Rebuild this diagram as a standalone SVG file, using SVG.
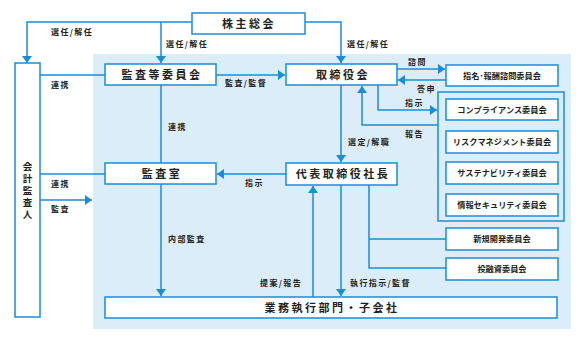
<svg xmlns="http://www.w3.org/2000/svg" width="582" height="341" viewBox="0 0 582 341">
<defs>
<marker id="ah" markerUnits="userSpaceOnUse" markerWidth="8" markerHeight="10" refX="7" refY="5" orient="auto">
<path d="M0,0 L7,5 L0,10 z" fill="#1a8cd8"/>
</marker>
<style>
.box{fill:#fff;stroke:#1a8cd8;stroke-width:1.5}
.ln{fill:none;stroke:#1a8cd8;stroke-width:1.5}
.ar{fill:none;stroke:#1a8cd8;stroke-width:1.5;marker-end:url(#ah)}
text{font-family:"Noto Sans CJK JP","Noto Sans",sans-serif;font-weight:bold;fill:#231f20}
.main{font-size:11px;letter-spacing:2.5px;text-anchor:middle}
.cm{font-size:8.2px;text-anchor:middle}
.lb{font-size:8px;letter-spacing:1.4px}
</style>
</defs>
<rect x="93" y="54" width="478" height="275" fill="#dcedfa"/>
<g id="connectors">
<path class="ar" d="M192,22 H27 V63"/>
<path class="ar" d="M161,22 V63"/>
<path class="ar" d="M305,22 H341 V63"/>
<path class="ln" d="M40,75 H105"/>
<path class="ar" d="M216,75 H285"/>
<path class="ar" d="M397,69 H445"/>
<path class="ar" d="M446,80 H398"/>
<path class="ar" d="M378,85 V110 H437"/>
<path class="ar" d="M438,125 H362 V86"/>
<path class="ar" d="M341,85 V162"/>
<path class="ln" d="M161,85 V163"/>
<path class="ar" d="M286,174 H217"/>
<path class="ln" d="M40,174 H105"/>
<path class="ar" d="M40,200 H92"/>
<path class="ar" d="M161,184 V296"/>
<path class="ar" d="M313,297 V186"/>
<path class="ar" d="M341,185 V296"/>
<path class="ln" d="M369,185 V268 H446 M369,239 H446"/>
</g>
<g id="shareholders"><rect class="box" x="192" y="13" width="113" height="21"/><text class="main" x="249" y="28">株主総会</text></g>
<g id="auditor"><rect class="box" x="15" y="63" width="25" height="254"/>
<text font-size="9.5" writing-mode="vertical-rl" letter-spacing="2.5" x="27.5" y="162">会計監査人</text></g>
<g id="audit-committee"><rect class="box" x="105" y="64" width="111" height="21"/><text class="main" x="162" y="79">監査等委員会</text></g>
<g id="board"><rect class="box" x="286" y="64" width="111" height="21"/><text class="main" x="343" y="79">取締役会</text></g>
<g id="nomination"><rect class="box" x="446" y="65" width="112" height="21"/><text class="cm" x="502" y="78.5">指名･報酬諮問委員会</text></g>
<g id="committees"><rect class="ln" x="438" y="92" width="126" height="129"/>
<g id="compliance"><rect class="box" x="446" y="99" width="112" height="21"/><text class="cm" x="502" y="112.5">コンプライアンス委員会</text></g>
<g id="risk"><rect class="box" x="446" y="131" width="112" height="22"/><text class="cm" x="502" y="145">リスクマネジメント委員会</text></g>
<g id="sustainability"><rect class="box" x="446" y="162" width="112" height="22"/><text class="cm" x="502" y="176">サステナビリティ委員会</text></g>
<g id="infosec"><rect class="box" x="446" y="194" width="112" height="22"/><text class="cm" x="502" y="208">情報セキュリティ委員会</text></g>
</g>
<g id="audit-office"><rect class="box" x="105" y="163" width="111" height="21"/><text class="main" x="162" y="178">監査室</text></g>
<g id="president"><rect class="box" x="286" y="163" width="111" height="22"/><text class="main" x="343" y="178">代表取締役社長</text></g>
<g id="newdev"><rect class="box" x="446" y="228" width="112" height="22"/><text class="cm" x="502" y="242">新規開発委員会</text></g>
<g id="investment"><rect class="box" x="446" y="258" width="112" height="22"/><text class="cm" x="502" y="272">投融資委員会</text></g>
<g id="business"><rect class="box" x="105" y="297" width="452" height="21"/><text class="main" x="332" y="312">業務執行部門・子会社</text></g>
<g id="labels">
<text class="lb" x="51" y="35">選任/解任</text>
<text class="lb" x="166" y="47">選任/解任</text>
<text class="lb" x="347" y="47">選任/解任</text>
<text class="lb" x="51" y="88">連携</text>
<text class="lb" x="225" y="86">監査/監督</text>
<text class="lb" x="408" y="65">諮問</text>
<text class="lb" x="417" y="92">答申</text>
<text class="lb" x="405" y="106">指示</text>
<text class="lb" x="405" y="137">報告</text>
<text class="lb" x="348" y="145">選定/解職</text>
<text class="lb" x="168" y="130">連携</text>
<text class="lb" x="245" y="186">指示</text>
<text class="lb" x="51" y="187">連携</text>
<text class="lb" x="51" y="212">監査</text>
<text class="lb" x="168" y="242">内部監査</text>
<text class="lb" x="260" y="286">提案/報告</text>
<text class="lb" x="350" y="286">執行指示/監督</text>
</g>
</svg>
